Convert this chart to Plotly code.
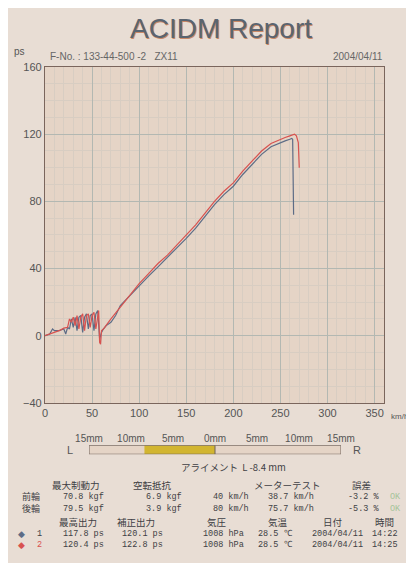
import plotly.graph_objects as go

SPEED_RED = [0, 5, 10, 15, 20, 24, 26, 28, 30, 32, 34, 36, 38, 40, 42, 44, 46, 48, 50, 52, 54, 56, 57,
             58, 59, 60, 62, 70, 80, 90, 100, 110, 120, 130, 140, 150, 160, 170, 180, 190, 200, 210,
             220, 230, 240, 250, 255, 260, 265, 267, 269, 270]
PS_RED = [0, 1, 2, 3, 4.5, 5, 10, 8, 11, 6, 12, 4, 11, 13, 3, 12, 13, 5, 12, 14, 4, 13, 15,
          -4, -5, 3, 4, 10, 17, 24, 31, 37, 43, 48, 54, 60, 66, 73, 80, 86, 91, 98,
          104, 110, 114.5, 117, 118, 119, 120, 119, 115, 100]

SPEED_BLUE = [0, 5, 8, 10, 15, 20, 22, 24, 26, 28, 30, 32, 34, 36, 38, 40, 42, 44, 46, 48, 50, 52, 54,
              56, 58, 60, 62, 65, 70, 75, 80, 85, 90, 100, 110, 120, 130, 140, 150, 160, 170, 180,
              190, 200, 210, 220, 230, 240, 250, 255, 260, 262, 263, 264]
PS_BLUE = [0, 1, 4, 3, 3, 4, 1, 5, 4, 10, 5, 11, 3, 11, 12, 2, 11, 13, 4, 12, 13, 3, 13,
           15, -2, 2, 4, 6, 8, 12, 18, 21, 24, 29.5, 35.5, 41, 46.5, 52, 58, 64, 71, 78,
           84, 89, 96, 102, 108, 112.5, 115, 116, 117, 117.5, 117, 72]

Y_TICKS = [-40, 0, 40, 80, 120, 160]
X_TICKS = [0, 50, 100, 150, 200, 250, 300, 350]

ALIGN_TICKS = [-15, -10, -5, 0, 5, 10, 15]
ALIGN_TEXT = ["15mm", "10mm", "5mm", "0mm", "5mm", "10mm", "15mm"]
ALIGN_MM = -8.4

HEAD1 = ["最大制動力", "空転抵抗", "メーターテスト", "誤差"]
WHEELS = ["前輪", "後輪"]
BRAKE = ["70.8 kgf", "79.5 kgf"]
ROLL = ["6.9 kgf", "3.9 kgf"]
METER_SET = ["40 km/h", "80 km/h"]
METER_READ = ["38.7 km/h", "75.7 km/h"]
ERROR = ["-3.2 %", "-5.3 %"]
JUDGE = ["OK", "OK"]

HEAD2 = ["最高出力", "補正出力", "気圧", "気温", "日付", "時間"]
RUNS = ["1", "2"]
MAX_PS = ["117.8 ps", "120.4 ps"]
CORR_PS = ["120.1 ps", "122.8 ps"]
PRESS = ["1008 hPa", "1008 hPa"]
TEMP = ["28.5 ℃", "28.5 ℃"]
DATE = ["2004/04/11", "2004/04/11"]
TIME = ["14:22", "14:25"]

COR_AZUL = "#5d6c86"
COR_VERMELHO = "#d8524f"
TXT = "#3f3f44"
JP = "Noto Sans CJK JP"
MONO = "Liberation Mono"

# page geometry (px) -> paper coords
W, H = 414, 563
L, R, T, B = 37, 38, 59, 8


def px(x):
    return (x - L) / (W - L - R)


def py(y):
    return (H - B - y) / (H - T - B)


fig = go.Figure()
fig.add_trace(go.Scatter(x=SPEED_BLUE, y=PS_BLUE, mode="lines", name="1",
                         line=dict(color=COR_AZUL, width=1.2)))
fig.add_trace(go.Scatter(x=SPEED_RED, y=PS_RED, mode="lines", name="2",
                         line=dict(color=COR_VERMELHO, width=1.2)))

# alignment bar on its own axes
fig.add_trace(go.Scatter(x=[-15, 15], y=[0, 0], mode="none", xaxis="x2", yaxis="y2",
                         showlegend=False, hoverinfo="skip"))
fig.add_shape(type="rect", xref="x2", yref="y2", x0=ALIGN_MM, x1=0, y0=0, y1=1,
              fillcolor="#d2b530", line=dict(width=0))
fig.add_shape(type="rect", xref="x2", yref="y2", x0=-15, x1=15, y0=0, y1=1,
              line=dict(color="#6e6058", width=1))
fig.add_shape(type="line", xref="x2", yref="y2", x0=0, x1=0, y0=0, y1=1,
              line=dict(color="#6e6058", width=1))

ann = []


def txt(x, y, s, size=10, color=TXT, anchor="left", family=JP):
    ann.append(dict(x=px(x), y=py(y), xref="paper", yref="paper", text=s, showarrow=False,
                    xanchor=anchor, yanchor="middle", font=dict(size=size, color=color, family=family)))


# title with slight colour fringe like the photo
txt(214, 21, "ACIDM Report", 28, "#c98866", "center", "Liberation Sans")
txt(212.5, 20, "ACIDM Report", 28, "#5a6470", "center", "Liberation Sans")
txt(4, 43, "ps", 10, "#555", "left", "Liberation Sans")
txt(40, 48, "F-No. : 133-44-500 -2   ZX11", 10, "#666", "left", "Liberation Sans")
txt(377, 48, "2004/04/11", 10, "#666", "right", "Liberation Sans")
txt(402, 413, "km/h", 8, "#555", "right", "Liberation Sans")

txt(62, 447, "L", 11, "#555", "center", "Liberation Sans")
txt(349, 447, "R", 11, "#555", "center", "Liberation Sans")
txt(225, 464, "アライメント  L -8.4 mm", 9.5, TXT, "center")

# table 1
for x, h in zip([42, 123, 244, 342], HEAD1):
    txt(x, 482, h, 9.5)
for i, yy in enumerate([494, 506]):
    txt(12, yy, WHEELS[i], 9)
    for x, v in zip([53, 136, 203, 258, 338], [BRAKE[i], ROLL[i], METER_SET[i], METER_READ[i], ERROR[i]]):
        txt(x, yy, v, 8.5, TXT, "left", MONO)
    txt(380, yy, JUDGE[i], 8.5, "#a6c49a", "left", MONO)

# table 2
for x, h in zip([49, 107, 197, 258, 313, 365], HEAD2):
    txt(x, 520, h, 9.5)
for i, yy in enumerate([532, 543]):
    c = [COR_AZUL, COR_VERMELHO][i]
    txt(13, yy, "◆", 9, c, "center", "DejaVu Sans")
    txt(31, yy, RUNS[i], 8.5, c if i else TXT, "center", MONO)
    for x, v in zip([53, 112, 193, 248, 302, 362],
                    [MAX_PS[i], CORR_PS[i], PRESS[i], TEMP[i], DATE[i], TIME[i]]):
        txt(x, yy, v, 8.5, TXT, "left", MONO)

fig.update_layout(
    width=W, height=H,
    margin=dict(l=L, r=R, t=T, b=B),
    paper_bgcolor="#e8ddd4",
    plot_bgcolor="#e5d4c6",
    showlegend=False,
    font=dict(family="Liberation Sans", size=11, color="#555"),
    xaxis=dict(range=[0, 360], tickvals=X_TICKS, showgrid=True, gridcolor="#b3b8b2", gridwidth=1,
               minor=dict(dtick=10, showgrid=True, gridcolor="#d8cdc2"),
               zeroline=False, showline=True, linecolor="#7a655c", linewidth=1.2, mirror=True,
               ticks="", tickfont=dict(size=11), domain=[0, 1], anchor="y"),
    yaxis=dict(range=[-40, 160], tickvals=Y_TICKS, showgrid=True, gridcolor="#b3b8b2", gridwidth=1,
               minor=dict(dtick=10, showgrid=True, gridcolor="#d8cdc2"),
               zeroline=False, showline=True, linecolor="#7a655c", linewidth=1.2, mirror=True,
               ticks="", tickfont=dict(size=11), domain=[py(399), 1], anchor="x"),
    xaxis2=dict(range=[-15, 15], tickvals=ALIGN_TICKS, ticktext=ALIGN_TEXT, side="top",
                domain=[px(81), px(333)], anchor="y2", showgrid=False, zeroline=False,
                showline=False, ticks="", tickfont=dict(size=10, color="#555")),
    yaxis2=dict(range=[0, 1], domain=[py(451), py(442)], anchor="x2", visible=False),
    annotations=ann,
)

fig.write_html("out.html")
